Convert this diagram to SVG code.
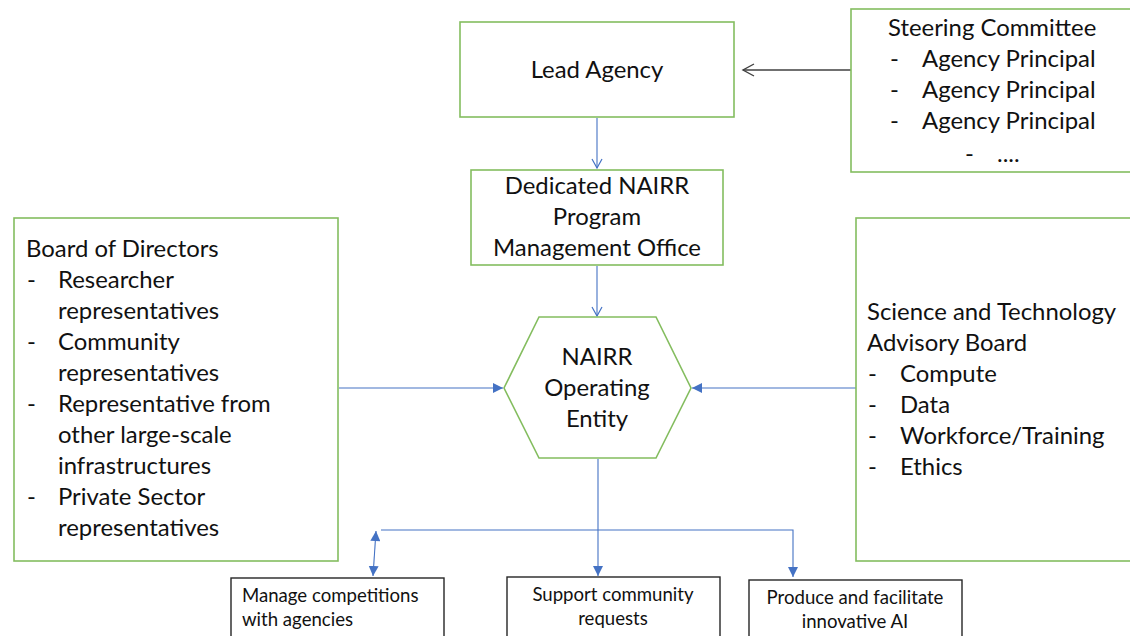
<svg xmlns="http://www.w3.org/2000/svg" width="1130" height="636" viewBox="0 0 1130 636">
<style>
.g{fill:#fff;stroke:#84bd5f;stroke-width:1.6}
.k{fill:#fff;stroke:#262626;stroke-width:1.4}
.t{font-family:Lato,"Liberation Sans",sans-serif;font-size:23.9px;fill:#111}
.s{font-family:Lato,"Liberation Sans",sans-serif;font-size:18.6px;fill:#111}
.m{text-anchor:middle}
.b{fill:none;stroke:#4472c4;stroke-width:1.1}
.d{fill:none;stroke:#404040;stroke-width:1.4}
</style>
<defs>
<marker id="ob" markerWidth="12" markerHeight="12" refX="10" refY="6" orient="auto" markerUnits="userSpaceOnUse"><path d="M1,1 L10,6 L1,11" fill="none" stroke="#4472c4" stroke-width="1.2"/></marker>
<marker id="od" markerWidth="14" markerHeight="14" refX="12" refY="7" orient="auto" markerUnits="userSpaceOnUse"><path d="M1,1 L12,7 L1,13" fill="none" stroke="#404040" stroke-width="1.4"/></marker>
<marker id="fb" markerWidth="12" markerHeight="12" refX="10" refY="5" orient="auto" markerUnits="userSpaceOnUse"><path d="M0,0 L10,5 L0,10 Z" fill="#4472c4"/></marker>
<marker id="fbs" markerWidth="12" markerHeight="12" refX="0" refY="5" orient="auto" markerUnits="userSpaceOnUse"><path d="M10,0 L0,5 L10,10 Z" fill="#4472c4"/></marker>
</defs>
<g id="connectors">
<path class="b" d="M597,118 V168" marker-end="url(#ob)"/>
<path class="b" d="M597,266 V316" marker-end="url(#ob)"/>
<path class="d" d="M851,70 H743" marker-end="url(#od)"/>
<path class="b" d="M339,388 H503" marker-end="url(#fb)"/>
<path class="b" d="M856,388 H692" marker-end="url(#fb)"/>
<path class="b" d="M598,459 V576" marker-end="url(#fb)"/>
<path class="b" d="M381,530 H793 V577" marker-end="url(#fb)"/>
<path class="b" d="M376,531 L373,576" marker-start="url(#fbs)" marker-end="url(#fb)"/>
</g>
<g id="lead-agency">
<rect class="g" x="460" y="22" width="274" height="95"/>
<text class="t m" x="597" y="78">Lead Agency</text>
</g>
<g id="steering-committee">
<rect class="g" x="851" y="9" width="290" height="163"/>
<text class="t" x="888" y="36">Steering Committee</text>
<text class="t" x="890" y="67">-</text><text class="t" x="922" y="67">Agency Principal</text>
<text class="t" x="890" y="98">-</text><text class="t" x="922" y="98">Agency Principal</text>
<text class="t" x="890" y="129">-</text><text class="t" x="922" y="129">Agency Principal</text>
<text class="t" x="965" y="162">-</text><text class="t" x="997" y="162">....</text>
</g>
<g id="program-office">
<rect class="g" x="471" y="170" width="252" height="95"/>
<text class="t m" x="597" y="194">Dedicated NAIRR</text>
<text class="t m" x="597" y="225">Program</text>
<text class="t m" x="597" y="256">Management Office</text>
</g>
<g id="operating-entity">
<polygon class="g" points="539,317 656,317 691,388 656,458 539,458 504,388"/>
<text class="t m" x="597" y="365">NAIRR</text>
<text class="t m" x="597" y="396">Operating</text>
<text class="t m" x="597" y="427">Entity</text>
</g>
<g id="board-of-directors">
<rect class="g" x="14" y="218" width="324" height="343"/>
<text class="t" x="26" y="257">Board of Directors</text>
<text class="t" x="27" y="288">-</text><text class="t" x="58" y="288">Researcher</text>
<text class="t" x="58" y="319">representatives</text>
<text class="t" x="27" y="350">-</text><text class="t" x="58" y="350">Community</text>
<text class="t" x="58" y="381">representatives</text>
<text class="t" x="27" y="412">-</text><text class="t" x="58" y="412">Representative from</text>
<text class="t" x="58" y="443">other large-scale</text>
<text class="t" x="58" y="474">infrastructures</text>
<text class="t" x="27" y="505">-</text><text class="t" x="58" y="505">Private Sector</text>
<text class="t" x="58" y="536">representatives</text>
</g>
<g id="advisory-board">
<rect class="g" x="856" y="218" width="290" height="343"/>
<text class="t" x="867" y="320">Science and Technology</text>
<text class="t" x="867" y="351">Advisory Board</text>
<text class="t" x="868" y="382">-</text><text class="t" x="900" y="382">Compute</text>
<text class="t" x="868" y="413">-</text><text class="t" x="900" y="413">Data</text>
<text class="t" x="868" y="444">-</text><text class="t" x="900" y="444">Workforce/Training</text>
<text class="t" x="868" y="475">-</text><text class="t" x="900" y="475">Ethics</text>
</g>
<g id="manage-competitions">
<rect class="k" x="231" y="578" width="213" height="70"/>
<text class="s" x="242" y="602">Manage competitions</text>
<text class="s" x="242" y="626">with agencies</text>
</g>
<g id="support-requests">
<rect class="k" x="507" y="577" width="213" height="70"/>
<text class="s m" x="613" y="601">Support community</text>
<text class="s m" x="613" y="625">requests</text>
</g>
<g id="produce-ai">
<rect class="k" x="749" y="580" width="213" height="70"/>
<text class="s m" x="855" y="604">Produce and facilitate</text>
<text class="s m" x="855" y="628">innovative AI</text>
</g>
</svg>
